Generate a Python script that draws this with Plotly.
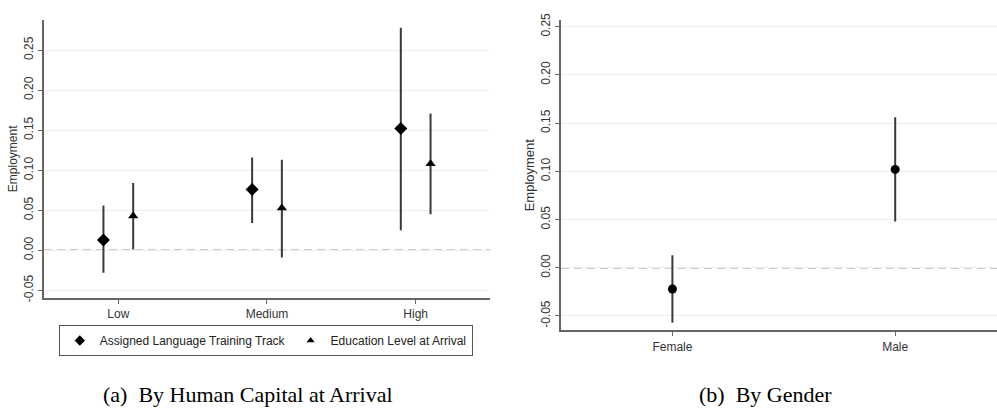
import plotly.graph_objects as go

# ---- data: panel (a) ----
levels = ["Low", "Medium", "High"]
track_est = [0.013, 0.076, 0.152]
track_lo = [-0.028, 0.034, 0.025]
track_hi = [0.056, 0.116, 0.278]
edu_est = [0.043, 0.053, 0.108]
edu_lo = [0.001, -0.009, 0.045]
edu_hi = [0.084, 0.113, 0.171]

# ---- data: panel (b) ----
genders = ["Female", "Male"]
gender_est = [-0.022, 0.102]
gender_lo = [-0.057, 0.048]
gender_hi = [0.013, 0.156]

y_ticks = [-0.05, 0.00, 0.05, 0.10, 0.15, 0.20, 0.25]

ERR_COLOR = "#3a3a3a"
AX_COLOR = "#666666"
GRID_COLOR = "#eeeeee"
TXT = "#333333"
FONT = "Liberation Sans, Arial, sans-serif"
SERIF = "Liberation Serif, Times New Roman, serif"

fig = go.Figure()

pos = [i + 1 for i in range(len(levels))]
off = 0.1

def err(est, lo, hi):
    return dict(type="data", symmetric=False,
                array=[h - e for e, h in zip(est, hi)],
                arrayminus=[e - l for e, l in zip(est, lo)],
                color=ERR_COLOR, thickness=2, width=0)

fig.add_trace(go.Scatter(
    x=[p - off for p in pos], y=track_est, mode="markers",
    name="Assigned Language Training Track", showlegend=False,
    marker=dict(symbol="diamond", size=10, color="black"),
    error_y=err(track_est, track_lo, track_hi),
    xaxis="x", yaxis="y"))
fig.add_trace(go.Scatter(
    x=[p + off for p in pos], y=edu_est, mode="markers",
    name="Education Level at Arrival", showlegend=False,
    marker=dict(symbol="triangle-up", size=9, color="black"),
    error_y=err(edu_est, edu_lo, edu_hi),
    xaxis="x", yaxis="y"))

# legend entries (smaller glyphs, as in the reference legend)
fig.add_trace(go.Scatter(
    x=[None], y=[None], mode="markers", name="Assigned Language Training Track",
    marker=dict(symbol="diamond", size=8, color="black"), xaxis="x", yaxis="y"))
fig.add_trace(go.Scatter(
    x=[None], y=[None], mode="markers", name="Education Level at Arrival",
    marker=dict(symbol="triangle-up", size=7, color="black"), xaxis="x", yaxis="y"))

gpos = [i + 1 for i in range(len(genders))]
fig.add_trace(go.Scatter(
    x=gpos, y=gender_est, mode="markers", showlegend=False,
    marker=dict(symbol="circle", size=9, color="black"),
    error_y=err(gender_est, gender_lo, gender_hi),
    xaxis="x2", yaxis="y2"))

def y_axis(title_size):
    return dict(
        tickvals=y_ticks, ticktext=[f"{v:.2f}" for v in y_ticks],
        tickangle=-90, ticks="outside", ticklen=4, tickcolor=AX_COLOR,
        showline=True, linecolor=AX_COLOR, linewidth=1.5,
        showgrid=True, gridcolor=GRID_COLOR, gridwidth=1,
        zeroline=False, tickfont=dict(family=FONT, size=12, color=TXT),
        title=dict(text="Employment", font=dict(family=FONT, size=title_size, color=TXT), standoff=2),
    )

common_x = dict(
    ticks="outside", ticklen=4, tickcolor=AX_COLOR,
    showline=True, linecolor=AX_COLOR, linewidth=1.5,
    showgrid=False, zeroline=False,
    tickfont=dict(family=FONT, size=12, color=TXT),
)

fig.update_layout(
    width=997, height=412,
    margin=dict(l=0, r=0, t=0, b=0),
    paper_bgcolor="white", plot_bgcolor="white",
    showlegend=True,
    xaxis=dict(domain=[0.0441, 0.4915], range=[0.5, 3.5],
               tickvals=pos, ticktext=levels, anchor="y", **common_x),
    yaxis=dict(domain=[0.2743, 0.9684], range=[-0.0595, 0.288], anchor="x", **y_axis(12)),
    xaxis2=dict(domain=[0.5627, 1.0], range=[0.5, 2.457],
                tickvals=gpos, ticktext=genders, anchor="y2", **common_x),
    yaxis2=dict(domain=[0.1934, 0.9677], range=[-0.065, 0.257], anchor="x2", **y_axis(13)),
    legend=dict(orientation="h", x=0.059, y=0.207, xanchor="left", yanchor="top",
                bordercolor="#555555", borderwidth=1, bgcolor="white",
                font=dict(family=FONT, size=12, color="#222222"),
                itemwidth=30, tracegroupgap=0),
    shapes=[
        dict(type="line", xref="x domain", yref="y", x0=0, x1=1, y0=0, y1=0,
             line=dict(color="#999999", width=1.5, dash="8px,5px"), layer="below"),
        dict(type="line", xref="x2 domain", yref="y2", x0=0, x1=1, y0=0, y1=0,
             line=dict(color="#999999", width=1.5, dash="8px,5px"), layer="below"),
    ],
    annotations=[
        dict(text="(a)  By Human Capital at Arrival", xref="paper", yref="paper",
             x=248 / 997, y=1 - 398 / 412, xanchor="center", yanchor="middle",
             showarrow=False, font=dict(family=SERIF, size=22, color="black")),
        dict(text="(b)  By Gender", xref="paper", yref="paper",
             x=765 / 997, y=1 - 398 / 412, xanchor="center", yanchor="middle",
             showarrow=False, font=dict(family=SERIF, size=22, color="black")),
    ],
)

fig.write_html("out.html")
